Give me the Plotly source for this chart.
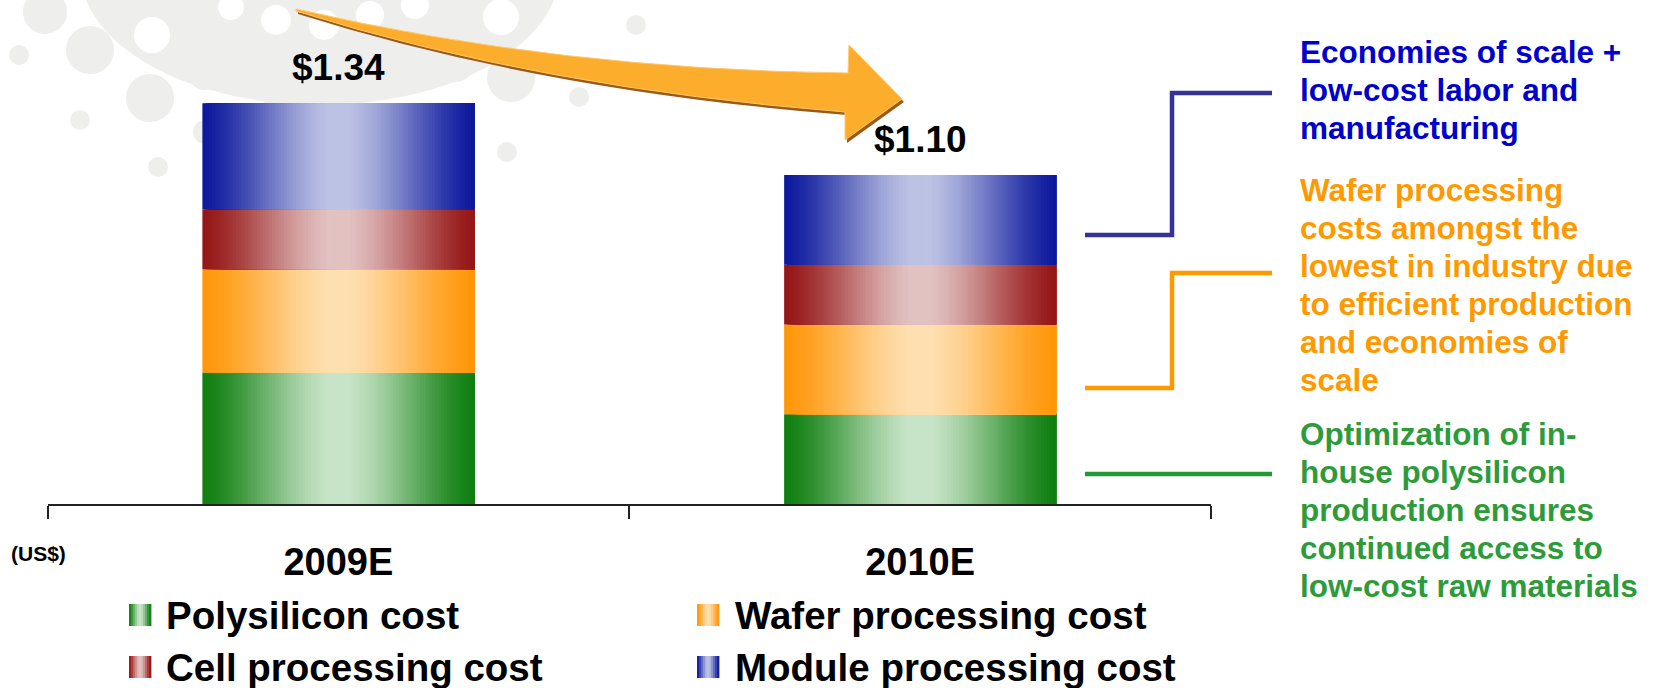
import plotly.graph_objects as go

# ---------------- data ----------------
years = ["2009E", "2010E"]
polysilicon_cost = [0.44, 0.30]
wafer_cost = [0.345, 0.30]
cell_cost = [0.20, 0.20]
module_cost = [0.355, 0.30]
series_names = ["Polysilicon cost", "Wafer processing cost",
                "Cell processing cost", "Module processing cost"]
series_values = [polysilicon_cost, wafer_cost, cell_cost, module_cost]
unit_label = "(US$)"

blue_note = ["Economies of scale +", "low-cost labor and", "manufacturing"]
orange_note = ["Wafer processing", "costs amongst the", "lowest in industry due",
               "to efficient production", "and economies of", "scale"]
green_note = ["Optimization of in-", "house polysilicon", "production ensures",
              "continued access to", "low-cost raw materials"]

# ---------------- style ----------------
W, H = 1654, 688
FONT = "Liberation Sans, Arial, sans-serif"
edge_cols = ["#0E7E0E", "#FF9608", "#951515", "#0C189C"]
center_cols = ["#C8E4C8", "#FEDFB0", "#E2C1C1", "#BCC2E4"]
BAR_W = 0.4675
N_SLICES = 90
PX_PER_UNIT = 299.0
AXIS_Y = 504
X_LEFT, X_RIGHT = 47.5, 1211


def PX(x):
    return x / W


def PY(y):
    return 1 - y / H


def hex2rgb(h):
    h = h.lstrip("#")
    return tuple(int(h[i:i + 2], 16) for i in (0, 2, 4))


def grad(edge, center, t):
    u = min(1.0, (1 - abs(2 * t - 1)) * 1.08)
    f = 0.5 * u + 0.5 * (u * u * (3 - 2 * u))
    e, c = hex2rgb(edge), hex2rgb(center)
    r = [round(e[k] + (c[k] - e[k]) * f) for k in range(3)]
    return "rgb(%d,%d,%d)" % tuple(r)


fig = go.Figure()

# stacked gradient bars: each segment made of narrow slices drawn from the data
bottoms = [0.0] * len(years)
for s, vals in enumerate(series_values):
    for i in range(N_SLICES):
        t = (i + 0.5) / N_SLICES
        fig.add_trace(go.Bar(
            x=years, y=vals, base=list(bottoms),
            offset=-BAR_W / 2 + i * BAR_W / N_SLICES,
            width=BAR_W - i * BAR_W / N_SLICES,
            marker=dict(color=grad(edge_cols[s], center_cols[s], t), line=dict(width=0)),
            name=series_names[s], legendgroup=series_names[s], showlegend=False,
            hovertemplate="%{x}: %{y:.2f}<extra>" + series_names[s] + "</extra>",
        ))
    bottoms = [b + v for b, v in zip(bottoms, vals)]

totals = bottoms
annotations = []
for yr, tot in zip(years, totals):
    annotations.append(dict(
        x=yr, y=tot, xref="x", yref="y", text="$%.2f" % tot, showarrow=False,
        yanchor="middle", yshift=36,
        font=dict(family=FONT, size=37, color="#000000", weight="bold")))

annotations.append(dict(
    x=PX(38), y=PY(553), xref="paper", yref="paper", text=unit_label, showarrow=False,
    xanchor="center", yanchor="middle",
    font=dict(family=FONT, size=21, color="#000000", weight="bold")))

shapes = []

# ---- decorative background pattern ----
BG = "#EEEEEC"
shapes.append(dict(type="circle", xref="paper", yref="paper", layer="below",
                   x0=PX(80), x1=PX(560), y0=PY(105), y1=PY(-165),
                   fillcolor=BG, line=dict(width=0)))
gray_dots = [(90, 50, 24), (150, 98, 24), (206, 70, 20), (276, 86, 20), (80, 120, 10),
             (158, 167, 10), (19, 55, 10), (507, 152, 10), (579, 97, 10), (636, 25, 10),
             (511, 78, 24), (455, 62, 20), (205, 132, 12), (45, 12, 22)]
white_dots = [(231, 7, 13), (276, 20, 15), (324, 25, 15), (370, 15, 14), (415, 5, 14),
              (501, 17, 18), (152, 35, 18)]
for cx, cy, r in gray_dots:
    shapes.append(dict(type="circle", xref="paper", yref="paper", layer="below",
                       x0=PX(cx - r), x1=PX(cx + r), y0=PY(cy + r), y1=PY(cy - r),
                       fillcolor=BG, line=dict(width=0)))
for cx, cy, r in white_dots:
    shapes.append(dict(type="circle", xref="paper", yref="paper", layer="below",
                       x0=PX(cx - r), x1=PX(cx + r), y0=PY(cy + r), y1=PY(cy - r),
                       fillcolor="#FFFFFF", line=dict(width=0)))


def ppath(cmds):
    out = []
    for c in cmds:
        if isinstance(c, str):
            out.append(c)
        else:
            out.append("%.5f,%.5f" % (PX(c[0]), PY(c[1])))
    return " ".join(out)


def arrow_path(dx=0, dy=0):
    pts = lambda x, y: (x + dx, y + dy)
    return ppath(["M", pts(296, 9), "Q", pts(560, 70), pts(848, 73), "L", pts(849, 45),
                  "L", pts(902, 99), "L", pts(845, 140), "L", pts(845, 112),
                  "Q", pts(540, 88), pts(296, 11), "Z"])


shapes.append(dict(type="path", xref="paper", yref="paper", layer="above",
                   path=arrow_path(2, 3), fillcolor="#9C5A14", line=dict(width=0)))
shapes.append(dict(type="path", xref="paper", yref="paper", layer="above",
                   path=arrow_path(), fillcolor="#FCAD2C",
                   line=dict(width=1, color="#FFC870")))

# ---- connector lines ----
conn = [
    ("#333399", [(1085, 235), (1172, 235), (1172, 93), (1272, 93)]),
    ("#FF9900", [(1085, 388), (1172, 388), (1172, 273), (1272, 273)]),
    ("#229933", [(1085, 474), (1272, 474)]),
]
for col, pts in conn:
    cmds = ["M", pts[0]]
    for p in pts[1:]:
        cmds += ["L", p]
    shapes.append(dict(type="path", xref="paper", yref="paper", path=ppath(cmds),
                       line=dict(color=col, width=4.5)))

# ---- right-hand notes ----
note_groups = [
    (blue_note, "#0000CC", 52),
    (orange_note, "#FF9900", 190),
    (green_note, "#2E9B3B", 434),
]
for lines, col, y0 in note_groups:
    for k, line in enumerate(lines):
        annotations.append(dict(
            x=PX(1298), y=PY(y0 + 38 * k), xref="paper", yref="paper", text=line,
            showarrow=False, xanchor="left", yanchor="middle",
            font=dict(family=FONT, size=31.5, color=col, weight="bold")))

# ---- manual legend with gradient swatches ----
legend_pos = [(129, 164, 615), (697, 733, 615), (129, 164, 667), (697, 733, 667)]
legend_order = [0, 1, 2, 3]  # Polysilicon, Wafer / Cell, Module
for (sx, tx, cy), s in zip(legend_pos, legend_order):
    n = 11
    sw = 22.0
    for i in range(n):
        t = (i + 0.5) / n
        shapes.append(dict(type="rect", xref="paper", yref="paper",
                           x0=PX(sx + i * sw / n), x1=PX(sx + (i + 1) * sw / n + 0.4),
                           y0=PY(cy + 11), y1=PY(cy - 11),
                           fillcolor=grad(edge_cols[s], center_cols[s], t), line=dict(width=0)))
    annotations.append(dict(
        x=PX(tx), y=PY(cy), xref="paper", yref="paper", text=series_names[s],
        showarrow=False, xanchor="left", yanchor="middle",
        font=dict(family=FONT, size=38.5, color="#000000", weight="bold")))

fig.update_layout(
    width=W, height=H, margin=dict(l=0, r=0, t=0, b=0),
    paper_bgcolor="#FFFFFF", plot_bgcolor="rgba(0,0,0,0)",
    barmode="overlay", showlegend=False,
    shapes=shapes, annotations=annotations,
    xaxis=dict(type="category", categoryorder="array", categoryarray=years,
               range=[-0.5, 1.5], domain=[PX(X_LEFT), PX(X_RIGHT)],
               tickson="boundaries", ticks="outside", ticklen=13, tickwidth=2,
               tickcolor="#222222", showline=True, linecolor="#222222", linewidth=2,
               showgrid=False, zeroline=False, ticklabelstandoff=23,
               tickfont=dict(family=FONT, size=38, color="#000000", weight="bold"),
               fixedrange=True),
    yaxis=dict(visible=False, range=[0, AXIS_Y / PX_PER_UNIT],
               domain=[PY(AXIS_Y), 1], fixedrange=True, showgrid=False, zeroline=False),
)

fig.write_html("out.html")
